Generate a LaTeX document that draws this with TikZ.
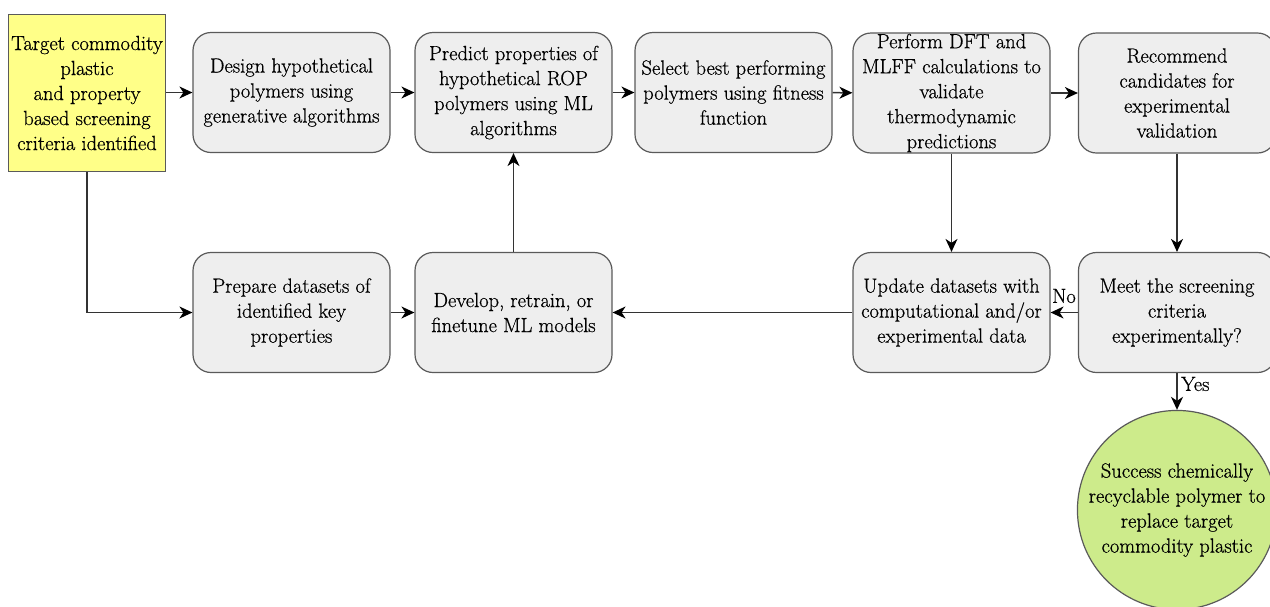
\documentclass[tikz,border=0pt]{standalone}
\usepackage{fontspec}
\setmainfont{Latin Modern Roman}[FakeBold=0.6]
\usetikzlibrary{arrows.meta}
\definecolor{yel}{RGB}{255,255,136}
\definecolor{grn}{RGB}{205,235,139}
\definecolor{boxfill}{RGB}{238,238,238}
\definecolor{edge}{RGB}{90,90,90}
\begin{document}
\begin{tikzpicture}[x=1pt,y=-1pt,
  txt/.style={align=center,font=\fontsize{20.5}{25}\selectfont,inner sep=0pt},
  box/.style={txt,draw=edge,fill=boxfill,rounded corners=18pt,line width=1.2pt,minimum width=197pt,minimum height=120pt},
  startbox/.style={txt,draw=edge,fill=yel,line width=1.2pt,minimum width=157pt,minimum height=157pt},
  endcirc/.style={txt,circle,draw=edge,fill=grn,line width=1.2pt,minimum size=194pt},
  conn/.style={draw=black!80,line width=1.5pt,-{Stealth[length=13pt,width=12pt,inset=4pt,color=black]}},
  lbl/.style={font=\fontsize{20.5}{25}\selectfont,inner sep=0pt}]
\useasboundingbox (0,0) rectangle (1270,606);
\fill[white] (0,0) rectangle (1270,606);
\node[startbox] (target) at (87,93) {Target commodity\\plastic\\and property\\based screening\\criteria identified};
\node[box] (design) at (291.5,92.5) {Design hypothetical\\polymers using\\generative algorithms};
\node[box] (predict) at (513.5,92.5) {Predict properties of\\hypothetical ROP\\polymers using ML\\algorithms};
\node[box] (select) at (733.5,92.5) {Select best performing\\polymers using fitness\\function};
\node[box] (perform) at (951.5,93) {Perform DFT and\\MLFF calculations to\\validate\\thermodynamic\\predictions};
\node[box] (recommend) at (1177,93) {Recommend\\candidates for\\experimental\\validation};
\node[box] (prepare) at (291.5,312.5) {Prepare datasets of\\identified key\\properties};
\node[box] (develop) at (513.5,312.5) {Develop, retrain, or\\finetune ML models};
\node[box] (update) at (951.5,312.5) {Update datasets with\\computational and/or\\experimental data};
\node[box] (meet) at (1177,312.5) {Meet the screening\\criteria\\experimentally?};
\node[endcirc] (success) at (1177,510) {Success chemically\\recyclable polymer to\\replace target\\commodity plastic};
\draw[conn] (target.east |- design.west) -- (design.west);
\draw[conn] (design) -- (predict);
\draw[conn] (predict) -- (select);
\draw[conn] (select) -- (perform);
\draw[conn] (perform) -- (recommend);
\draw[conn] (target.south) |- (prepare.west);
\draw[conn] (prepare) -- (develop);
\draw[conn] (develop) -- (predict);
\draw[conn] (update) -- (develop);
\draw[conn] (perform) -- (update);
\draw[conn] (recommend) -- (meet);
\draw[conn] (meet) -- (update);
\draw[conn] (meet) -- (success);
\node[lbl] (no) at (1064,296) {No};
\node[lbl,anchor=west] (yes) at (1181,384) {Yes};
\end{tikzpicture}
\end{document}
